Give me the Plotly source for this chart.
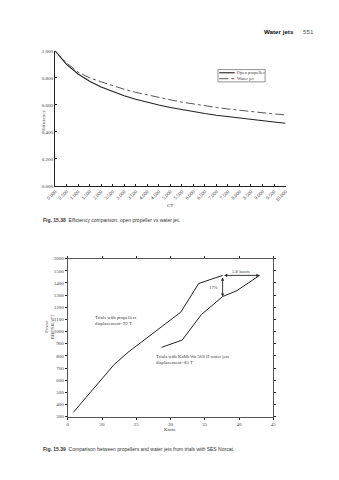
import plotly.graph_objects as go

# ---------------- data: Fig. 15.38 ----------------
ct_values = [0.0, 0.5, 1.0, 1.5, 2.0, 2.5, 3.0, 3.5, 4.0, 4.5, 5.0,
             5.5, 6.0, 6.5, 7.0, 7.5, 8.0, 8.5, 9.0, 9.5, 10.0]
eff_open_prop = [1.000, 0.899, 0.828, 0.775, 0.732, 0.697, 0.667, 0.641, 0.618, 0.598, 0.580,
                 0.564, 0.549, 0.535, 0.522, 0.511, 0.500, 0.490, 0.481, 0.472, 0.463]
eff_water_jet = [1.000, 0.910, 0.842, 0.800, 0.770, 0.740, 0.715, 0.692, 0.672, 0.654, 0.637,
                 0.620, 0.605, 0.592, 0.580, 0.569, 0.559, 0.549, 0.540, 0.532, 0.525]
series_names = ["Open propeller", "Water jet"]
ct_tickvals = [0.0, 0.5, 1.0, 1.5, 2.0, 2.5, 3.0, 3.5, 4.0, 4.5, 5.0,
               5.5, 6.0, 6.5, 7.0, 7.5, 8.0, 8.5, 9.0, 9.5, 10.0]
ct_ticktext = ["0.000", "0.500", "1.000", "1.500", "2.000", "2.500", "3.000", "3.500",
               "4.000", "4.500", "5.000", "5.500", "6.000", "6.500", "7.000", "7.500",
               "8.000", "8.500", "9.000", "9.500", "10.000"]
eff_tickvals = [0.0, 0.2, 0.4, 0.6, 0.8, 1.0]

# ---------------- data: Fig. 15.39 ----------------
prop_knots = [15.8, 21.7, 23.8, 31.5, 34.1, 37.6]
prop_power = [335, 725, 830, 1160, 1395, 1462]
jet_knots = [28.7, 31.7, 34.5, 37.6, 39.7, 43.0]
jet_power = [870, 930, 1140, 1288, 1337, 1462]
knots_tickvals = [15, 20, 25, 30, 35, 40, 45]
knots_ticktext = ["0", "20", "25", "30", "35", "40", "45"]
power_tickvals = [300, 400, 500, 600, 700, 800, 900, 1000, 1100, 1200, 1300, 1400, 1500, 1600]

W, H = 339, 480
def px(x):
    return x / W
def py(y):
    return 1 - y / H

INK = "#222222"
TXT = "#3c3c3c"
SERIF = "Liberation Serif"
SANS = "Liberation Sans"

fig = go.Figure()

fig.add_trace(go.Scatter(x=ct_values, y=eff_open_prop, mode="lines", name=series_names[0],
                         line=dict(color=INK, width=1.1), xaxis="x", yaxis="y", showlegend=False))
fig.add_trace(go.Scatter(x=ct_values, y=eff_water_jet, mode="lines", name=series_names[1],
                         line=dict(color="#444444", width=0.9, dash="dashdot"),
                         xaxis="x", yaxis="y", showlegend=False))

fig.add_trace(go.Scatter(x=prop_knots, y=prop_power, mode="lines", line=dict(color=INK, width=1),
                         xaxis="x2", yaxis="y2", showlegend=False))
fig.add_trace(go.Scatter(x=jet_knots, y=jet_power, mode="lines", line=dict(color=INK, width=1),
                         xaxis="x2", yaxis="y2", showlegend=False))

tickfont = dict(family=SERIF, size=5, color=TXT)

fig.update_layout(
    width=W, height=H,
    margin=dict(l=0, r=0, t=0, b=0),
    paper_bgcolor="white", plot_bgcolor="white",
    showlegend=False,
    xaxis=dict(domain=[px(47.7), px(286.7)], range=[0, 10], anchor="y",
               tickvals=ct_tickvals, ticktext=ct_ticktext, tickangle=-45,
               ticks="inside", ticklen=2, tickcolor=INK, tickfont=tickfont,
               showline=True, linecolor=INK, linewidth=1, showgrid=False, zeroline=False),
    yaxis=dict(domain=[py(185.7), py(49.3)], range=[0, 1], anchor="x",
               tickvals=eff_tickvals, tickformat=".3f",
               ticks="inside", ticklen=2, tickcolor=INK, tickfont=tickfont,
               showline=True, linecolor=INK, linewidth=1, showgrid=False, zeroline=False),
    xaxis2=dict(domain=[px(61), px(274)], range=[15, 45], anchor="y2",
                tickvals=knots_tickvals, ticktext=knots_ticktext,
                ticks="outside", ticklen=2, tickcolor=INK, tickfont=tickfont,
                showline=True, linecolor="#555555", linewidth=1, mirror="ticks",
                showgrid=False, zeroline=False),
    yaxis2=dict(domain=[py(419), py(259.3)], range=[300, 1600], anchor="x2",
                tickvals=power_tickvals,
                ticks="outside", ticklen=2, tickcolor=INK, tickfont=tickfont,
                showline=True, linecolor="#555555", linewidth=1, mirror="ticks",
                showgrid=False, zeroline=False),
)

ann = []
# page header
ann.append(dict(text="<b>Water jets</b>", x=px(298), y=py(29.5), xref="paper", yref="paper",
                xanchor="right", yanchor="middle", showarrow=False,
                font=dict(family=SANS, size=6.2, color="#111111")))
ann.append(dict(text="551", x=px(303), y=py(29.5), xref="paper", yref="paper",
                xanchor="left", yanchor="middle", showarrow=False,
                font=dict(family=SANS, size=6.2, color="#555555")))
# captions
ann.append(dict(text="<b>Fig. 15.38</b>  Efficiency comparison: open propeller vs water jet.",
                x=px(33), y=py(220), xref="paper", yref="paper", xanchor="left", yanchor="middle",
                showarrow=False, font=dict(family=SANS, size=5, color="#333333")))
ann.append(dict(text="<b>Fig. 15.39</b>  Comparison between propellers and water jets from trials with SES Norcat.",
                x=px(33), y=py(452), xref="paper", yref="paper", xanchor="left", yanchor="middle",
                showarrow=False, font=dict(family=SANS, size=5, color="#333333")))
# axis titles chart 1
ann.append(dict(text="Efficiency", x=px(31), y=py(107), xref="paper", yref="paper",
                textangle=-90, showarrow=False, font=dict(family=SERIF, size=5, color=TXT)))
ann.append(dict(text="CT", x=px(167), y=py(206), xref="paper", yref="paper",
                showarrow=False, font=dict(family=SERIF, size=5, color=TXT)))
# axis titles chart 2
ann.append(dict(text="Power<br>BHP/SHAFT", x=px(35), y=py(343), xref="paper", yref="paper",
                textangle=-90, showarrow=False, font=dict(family=SERIF, size=4.6, color=TXT)))
ann.append(dict(text="Knots", x=px(167), y=py(436.5), xref="paper", yref="paper",
                showarrow=False, font=dict(family=SERIF, size=4.8, color=TXT)))
# legend chart 1 (manual, compact like the original)
ann.append(dict(text=series_names[0], x=px(234.5), y=py(71.5), xref="paper", yref="paper",
                xanchor="left", yanchor="middle", showarrow=False,
                font=dict(family=SERIF, size=4.6, color=TXT)))
ann.append(dict(text=series_names[1], x=px(234.5), y=py(77.5), xref="paper", yref="paper",
                xanchor="left", yanchor="middle", showarrow=False,
                font=dict(family=SERIF, size=4.6, color=TXT)))
# chart 2 labels
ann.append(dict(text="Trials with propellers<br>displacement=92 T", x=18.6, y=1094,
                xref="x2", yref="y2", xanchor="left", yanchor="middle", align="left",
                showarrow=False, font=dict(family=SERIF, size=4.8, color=TXT)))
ann.append(dict(text="Trials with KaMeWa 56S II water jets<br>displacement=85 T", x=27.6, y=770,
                xref="x2", yref="y2", xanchor="left", yanchor="middle", align="left",
                showarrow=False, font=dict(family=SERIF, size=4.8, color=TXT)))
# double arrows
ann.append(dict(text="", x=jet_knots[-1], y=jet_power[-1], ax=prop_knots[-1], ay=prop_power[-1],
                xref="x2", yref="y2", axref="x2", ayref="y2", showarrow=True,
                arrowhead=2, startarrowhead=2, arrowside="end+start", arrowsize=0.7,
                arrowwidth=0.9, arrowcolor=INK, standoff=0, startstandoff=0))
ann.append(dict(text="", x=prop_knots[-1], y=jet_power[3], ax=prop_knots[-1], ay=prop_power[-1] - 5,
                xref="x2", yref="y2", axref="x2", ayref="y2", showarrow=True,
                arrowhead=2, startarrowhead=2, arrowside="end+start", arrowsize=0.7,
                arrowwidth=0.9, arrowcolor=INK, standoff=0, startstandoff=0))
ann.append(dict(text="5.8 knots", x=(prop_knots[-1] + jet_knots[-1]) / 2, y=1494,
                xref="x2", yref="y2", showarrow=False, font=dict(family=SERIF, size=4.8, color=TXT)))
ann.append(dict(text="17%", x=36.3, y=1364, xref="x2", yref="y2", showarrow=False,
                font=dict(family=SERIF, size=4.8, color=TXT)))

fig.update_layout(annotations=ann)

# legend box and sample lines (paper coords)
fig.add_shape(type="rect", xref="paper", yref="paper",
              x0=px(216.7), x1=px(265.5), y0=py(80.7), y1=py(68.3),
              line=dict(color="#777777", width=0.8), fillcolor="rgba(0,0,0,0)")
fig.add_shape(type="line", xref="paper", yref="paper", x0=px(218), x1=px(234),
              y0=py(71.5), y1=py(71.5), line=dict(color=INK, width=1.1))
fig.add_shape(type="line", xref="paper", yref="paper", x0=px(218), x1=px(234),
              y0=py(77.5), y1=py(77.5), line=dict(color="#444444", width=0.9, dash="dashdot"))

fig.write_html("out.html")
